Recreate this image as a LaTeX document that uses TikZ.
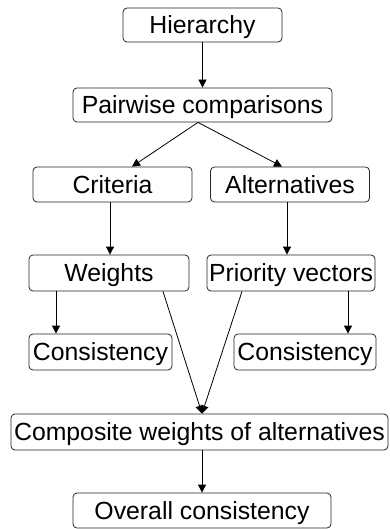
\documentclass[tikz,border=0pt]{standalone}
\usepackage{fontspec}
\setmainfont{Liberation Sans}
\usetikzlibrary{arrows.meta,calc}
\begin{document}
\begin{tikzpicture}[x=1pt,y=-1pt,
  box/.style={draw=black!85, line width=0.8pt, rounded corners=4pt, inner sep=0pt,
    font=\fontsize{24.8}{28}\selectfont, text height=17.8pt, text depth=0pt, align=center},
  arr/.style={draw=black, line width=0.8pt, -{Triangle[length=8pt,width=8pt]}},
  ln/.style={draw=black, line width=0.8pt}]
\useasboundingbox (0,0) rectangle (389,529);
\node[box, minimum width=159pt, minimum height=34pt] (hier) at (202.5,25) {Hierarchy};
\node[box, minimum width=259pt, minimum height=34pt] (pair) at (202.5,105) {Pairwise comparisons};
\node[box, minimum width=159pt, minimum height=35pt] (crit) at (112.5,184.5) {Criteria};
\node[box, minimum width=159pt, minimum height=35pt] (alt) at (290,184.5) {Alternatives};
\node[box, minimum width=160pt, minimum height=36pt] (wts) at (109,273) {Weights};
\node[box, minimum width=168pt, minimum height=36pt] (prio) at (291,273) {Priority vectors};
\node[box, minimum width=143pt, minimum height=36pt] (consl) at (100.5,352) {Consistency};
\node[box, minimum width=142pt, minimum height=36pt] (consr) at (305,352) {Consistency};
\node[box, minimum width=377pt, minimum height=36pt] (comp) at (199.5,432) {Composite weights of alternatives};
\node[box, minimum width=258pt, minimum height=35pt] (over) at (202,510.5) {Overall consistency};
\draw[arr] (hier.south) -- (pair.north);
\draw[arr] ([xshift=-4.5pt]pair.south) -- ([xshift=19.5pt]crit.north);
\draw[arr] ([xshift=-4.5pt]pair.south) -- ([xshift=-8pt]alt.north);
\draw[arr] ([xshift=-2.5pt]crit.south) -- ([xshift=1pt]wts.north);
\draw[arr] ([xshift=-3pt]alt.south) -- ([xshift=-4pt]prio.north);
\draw[arr] ([xshift=-53pt]wts.south) -- ([xshift=-44.5pt]consl.north);
\draw[arr] ([xshift=57pt]prio.south) -- ([xshift=43pt]consr.north);
\draw[arr] ([xshift=54pt]wts.south) -- ([xshift=2.5pt]comp.north);
\draw[arr] ([xshift=-49pt]prio.south) -- ([xshift=2.5pt]comp.north);
\draw[arr] ([xshift=2.5pt]comp.south) -- (over.north);
\end{tikzpicture}
\end{document}
